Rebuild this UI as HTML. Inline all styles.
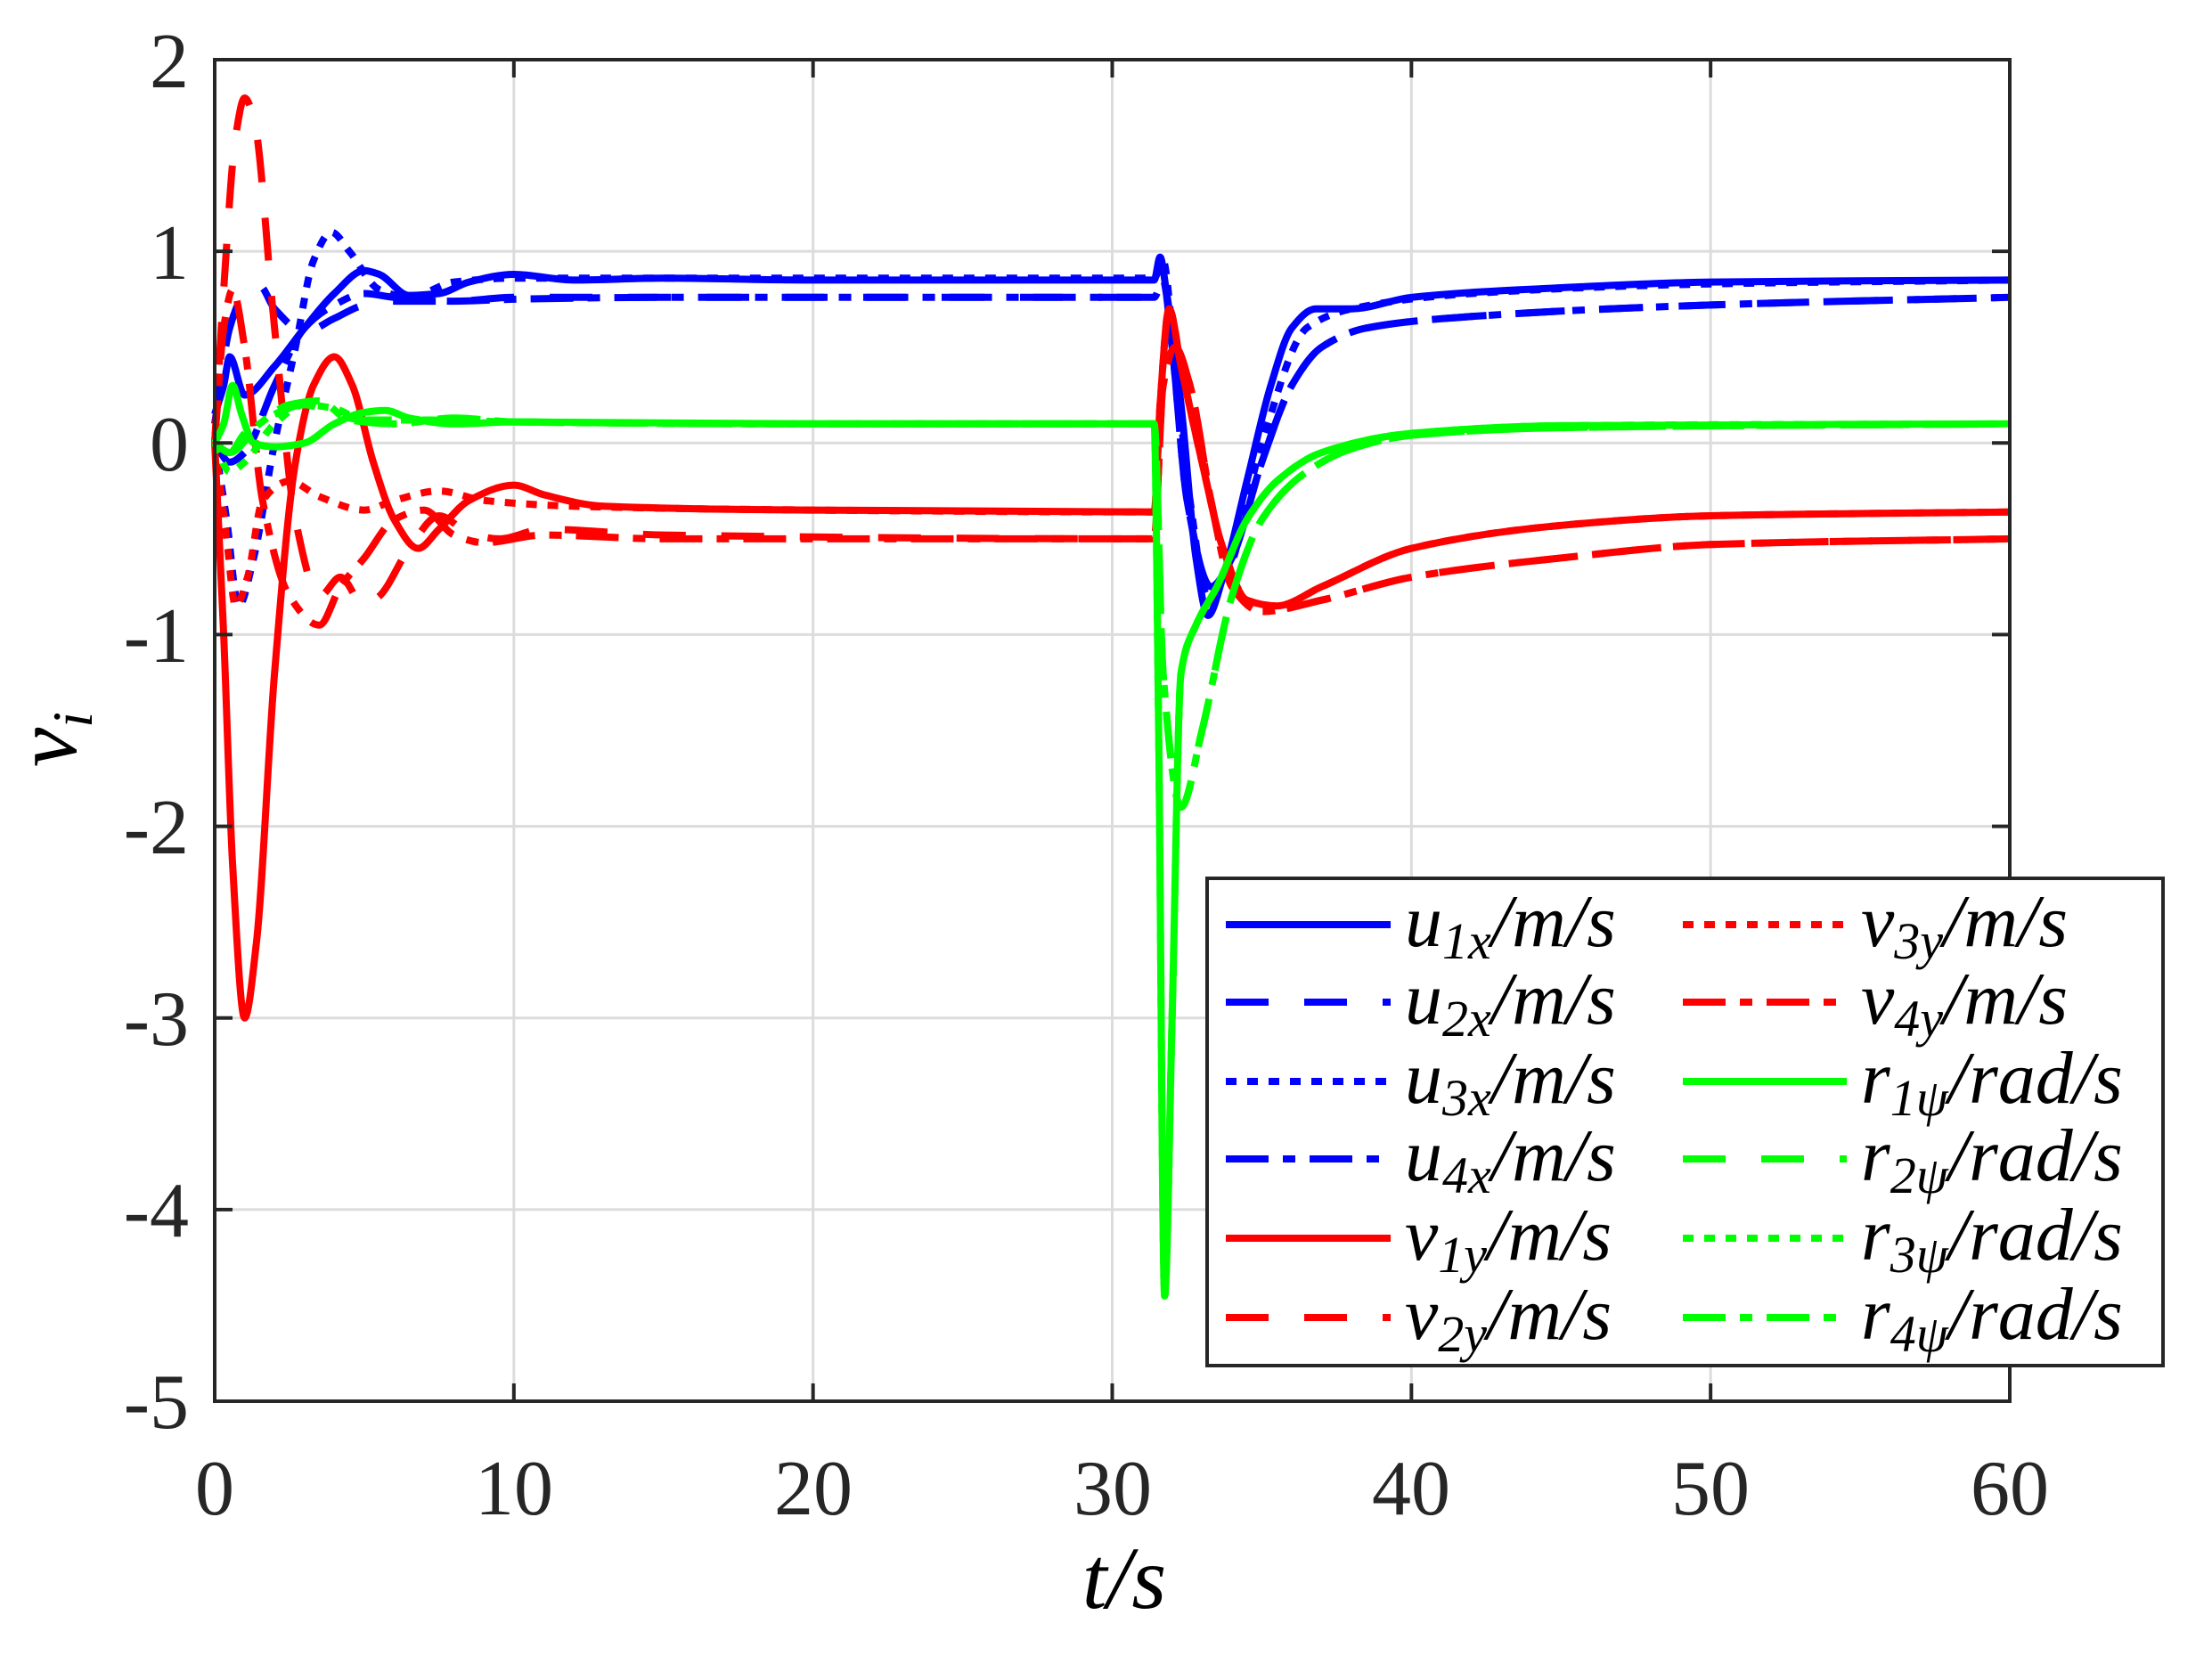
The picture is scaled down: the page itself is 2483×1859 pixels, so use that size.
<!DOCTYPE html>
<html><head><meta charset="utf-8"><style>
html,body{margin:0;padding:0;background:#fff;}
svg{display:block;}
.tk{font-family:"Liberation Serif",serif;font-size:88px;fill:#262626;}
.lg{font-family:"Liberation Serif",serif;font-style:italic;font-size:84px;fill:#000;}
</style></head><body>
<svg id="s" width="2483" height="1859" viewBox="0 0 2483 1859" xmlns="http://www.w3.org/2000/svg">
<rect width="2483" height="1859" fill="#fff"/>
<g id="grid" stroke="#dcdcdc" stroke-width="3"></g>
<g id="curves" fill="none" stroke-width="8" stroke-linejoin="round"></g>
<g id="axes"></g>
<g class="tk" text-anchor="end">
<text x="212" y="98">2</text>
<text x="212" y="313">1</text>
<text x="212" y="528">0</text>
<text x="212" y="743">-1</text>
<text x="212" y="958">-2</text>
<text x="212" y="1173">-3</text>
<text x="212" y="1388">-4</text>
<text x="212" y="1603">-5</text>
</g>
<g class="tk" text-anchor="middle">
<text x="241" y="1700">0</text>
<text x="577" y="1700">10</text>
<text x="913" y="1700">20</text>
<text x="1249" y="1700">30</text>
<text x="1584" y="1700">40</text>
<text x="1920" y="1700">50</text>
<text x="2256" y="1700">60</text>
</g>
<text class="lg" x="1262" y="1805" text-anchor="middle" style="font-size:100px">t/s</text>
<text class="lg" transform="translate(85,830) rotate(-90)" text-anchor="middle" style="font-size:100px">ν<tspan font-size="64" dy="18">i</tspan></text>
<rect x="1355" y="986" width="1073" height="547" fill="#fff" stroke="#262626" stroke-width="4"/>
<g id="leg" stroke-width="8" fill="none"></g>
<g class="lg">
<text x="1577" y="1062">u<tspan font-size="58" dy="14">1x</tspan><tspan dy="-14">/m/s</tspan></text>
<text x="1577" y="1149">u<tspan font-size="58" dy="14">2x</tspan><tspan dy="-14">/m/s</tspan></text>
<text x="1577" y="1238">u<tspan font-size="58" dy="14">3x</tspan><tspan dy="-14">/m/s</tspan></text>
<text x="1577" y="1325">u<tspan font-size="58" dy="14">4x</tspan><tspan dy="-14">/m/s</tspan></text>
<text x="1577" y="1414">v<tspan font-size="58" dy="14">1y</tspan><tspan dy="-14">/m/s</tspan></text>
<text x="1577" y="1503">v<tspan font-size="58" dy="14">2y</tspan><tspan dy="-14">/m/s</tspan></text>
<text x="2089" y="1062">v<tspan font-size="58" dy="14">3y</tspan><tspan dy="-14">/m/s</tspan></text>
<text x="2089" y="1149">v<tspan font-size="58" dy="14">4y</tspan><tspan dy="-14">/m/s</tspan></text>
<text x="2089" y="1238">r<tspan font-size="58" dy="14">1ψ</tspan><tspan dy="-14">/rad/s</tspan></text>
<text x="2089" y="1325">r<tspan font-size="58" dy="14">2ψ</tspan><tspan dy="-14">/rad/s</tspan></text>
<text x="2089" y="1414">r<tspan font-size="58" dy="14">3ψ</tspan><tspan dy="-14">/rad/s</tspan></text>
<text x="2089" y="1503">r<tspan font-size="58" dy="14">4ψ</tspan><tspan dy="-14">/rad/s</tspan></text>
</g>
</svg>
<script>
var L=241,R=2256,T=67,B=1573;
function X(t){return L+(R-L)*t/60;}
function Y(v){return T+(B-T)*(2-v)/7;}
var NS="http://www.w3.org/2000/svg";
function el(p,n,a){var e=document.createElementNS(NS,n);for(var k in a)e.setAttribute(k,a[k]);p.appendChild(e);return e;}
var g=document.getElementById('grid');
for(var i=1;i<6;i++)el(g,'line',{x1:X(i*10),x2:X(i*10),y1:T,y2:B});
for(var v=-4;v<2;v++)el(g,'line',{x1:L,x2:R,y1:Y(v),y2:Y(v)});
var ax=document.getElementById('axes');
el(ax,'rect',{x:L,y:T,width:R-L,height:B-T,fill:'none',stroke:'#262626','stroke-width':4});
for(var i=1;i<6;i++){el(ax,'line',{x1:X(i*10),x2:X(i*10),y1:B,y2:B-20,stroke:'#262626','stroke-width':4});el(ax,'line',{x1:X(i*10),x2:X(i*10),y1:T,y2:T+20,stroke:'#262626','stroke-width':4});}
for(var v=-4;v<2;v++){el(ax,'line',{x1:L,x2:L+20,y1:Y(v),y2:Y(v),stroke:'#262626','stroke-width':4});el(ax,'line',{x1:R,x2:R-20,y1:Y(v),y2:Y(v),stroke:'#262626','stroke-width':4});}
function path(pts){
var n=pts.length,x=pts.map(function(q){return q[0];}),y=pts.map(function(q){return q[1];});
var d=[],m=[];
for(var i=0;i<n-1;i++)d.push((y[i+1]-y[i])/(x[i+1]-x[i]));
m[0]=d[0];m[n-1]=d[n-2];
for(var i=1;i<n-1;i++){if(d[i-1]*d[i]<=0)m[i]=0;else{var w1=2*(x[i+1]-x[i])+(x[i]-x[i-1]),w2=(x[i+1]-x[i])+2*(x[i]-x[i-1]);m[i]=(w1+w2)/(w1/d[i-1]+w2/d[i]);}}
var s='M'+X(x[0]).toFixed(1)+','+Y(y[0]).toFixed(1);
for(var i=0;i<n-1;i++){var h=x[i+1]-x[i];
s+='C'+X(x[i]+h/3).toFixed(1)+','+Y(y[i]+m[i]*h/3).toFixed(1)+' '+X(x[i+1]-h/3).toFixed(1)+','+Y(y[i+1]-m[i+1]*h/3).toFixed(1)+' '+X(x[i+1]).toFixed(1)+','+Y(y[i+1]).toFixed(1);}
return s;}
var DA={s:'',d:'48 40',o:'12 12',dd:'48 16 14 16'};
var BL='#0000ff',RD='#ff0000',GR='#00ff00';
var u1=[[0,0.15],[0.3,0.3],[0.5,0.45],[1,0.25],[2,0.4],[3,0.6],[4,0.78],[5,0.9],[5.5,0.88],[6.5,0.77],[7.5,0.78],[8.5,0.84],[10,0.88],[12,0.85],[15,0.86],[20,0.85],[31.4,0.85],[31.6,0.97],[31.8,0.8],[32.3,0.2],[32.8,-0.6],[33.2,-0.9],[33.7,-0.7],[34.5,-0.2],[35.3,0.3],[36,0.6],[36.8,0.7],[38,0.7],[40,0.76],[45,0.81],[50,0.84],[60,0.85]];
var u2=[[0,0.1],[0.5,0.6],[1,0.78],[1.5,0.82],[2,0.7],[3,0.58],[4,0.65],[5,0.72],[6,0.74],[8,0.74],[10,0.76],[15,0.76],[31.4,0.76],[31.7,0.85],[32,0.5],[32.5,-0.3],[33.3,-0.75],[34,-0.6],[35,-0.1],[36,0.3],[37,0.5],[38.5,0.6],[42,0.66],[50,0.72],[60,0.76]];
var u3=[[0,0],[0.4,-0.4],[0.8,-0.85],[1.3,-0.6],[2,0.0],[2.7,0.5],[3.3,0.95],[3.9,1.1],[4.5,1.0],[5.5,0.8],[6.5,0.76],[8,0.84],[10,0.86],[15,0.86],[31.4,0.86],[31.7,0.95],[32,0.6],[32.6,-0.3],[33.2,-0.8],[33.8,-0.7],[35,0.0],[36.5,0.6],[38,0.7],[42,0.78],[50,0.83],[60,0.85]];
var u4=[[0,0],[0.5,-0.1],[1,-0.05],[2,0.3],[3,0.6],[4,0.72],[5,0.78],[6,0.76],[8,0.74],[10,0.75],[15,0.76],[31.4,0.76],[31.7,0.85],[32,0.5],[32.5,-0.3],[33.3,-0.75],[34,-0.6],[35,-0.1],[36,0.3],[37,0.5],[38.5,0.6],[42,0.66],[50,0.72],[60,0.76]];
var v1a=[[31.4,-0.36],[31.6,0.2],[31.9,0.7],[32.3,0.4],[33,-0.1],[33.7,-0.55],[34.5,-0.82],[35.5,-0.85],[37,-0.75],[40,-0.55],[45,-0.43],[50,-0.38],[60,-0.36]];
var v2a=[[31.4,-0.5],[31.7,0.3],[32.1,0.5],[32.6,0.3],[33.3,-0.3],[34,-0.75],[35,-0.88],[37,-0.82],[40,-0.7],[45,-0.6],[50,-0.53],[60,-0.5]];
var v1=[[0,0],[0.3,-1],[0.6,-2.2],[1,-3],[1.4,-2.6],[2,-1.2],[2.7,-0.1],[3.3,0.3],[4,0.45],[4.6,0.3],[5.3,-0.1],[6,-0.4],[6.8,-0.55],[7.5,-0.45],[8.5,-0.3],[10,-0.22],[11,-0.27],[13,-0.33],[20,-0.35]].concat(v1a);
var v2=[[0,0],[0.3,0.8],[0.7,1.6],[1,1.8],[1.3,1.7],[2,0.6],[2.7,-0.4],[3.5,-0.8],[4.2,-0.7],[5,-0.85],[5.5,-0.8],[6.5,-0.55],[7.5,-0.38],[8.5,-0.47],[9.5,-0.5],[11,-0.45],[15,-0.48]].concat(v2a);
var v3=[[0,0],[0.4,-0.5],[0.7,-0.85],[1.1,-0.7],[1.6,-0.3],[2.5,-0.2],[3.5,-0.28],[5,-0.35],[6,-0.3],[7.5,-0.25],[9,-0.3],[12,-0.33],[20,-0.35]].concat(v1a);
var v4=[[0,0],[0.3,0.6],[0.6,0.8],[1,0.5],[1.6,-0.3],[2.5,-0.8],[3.5,-0.95],[4.2,-0.75],[5,-0.6],[6,-0.4],[7,-0.35],[8,-0.48],[9,-0.52],[11,-0.48],[15,-0.5]].concat(v2a);
var r1a=[[31.4,0.1],[31.55,-1.5],[31.75,-4.45],[32,-3],[32.3,-1.2],[32.8,-0.95],[33.5,-0.75],[34.5,-0.4],[35.5,-0.2],[37,-0.05],[40,0.05],[45,0.09],[60,0.1]];
var r2a=[[31.4,0.1],[31.7,-1.2],[32.3,-1.9],[33,-1.5],[34,-0.8],[35,-0.4],[36.5,-0.15],[38,-0.03],[40,0.04],[45,0.08],[60,0.1]];
var r1=[[0,0],[0.3,0.1],[0.6,0.3],[0.9,0.15],[1.3,0.0],[2,-0.02],[3,0.0],[4,0.1],[5,0.16],[5.7,0.17],[6.5,0.13],[8,0.1],[10,0.11],[20,0.1]].concat(r1a);
var r2=[[0,0],[0.5,-0.05],[1,0.05],[2,0.15],[3,0.2],[4,0.15],[5,0.12],[7,0.12],[10,0.11],[20,0.1]].concat(r2a);
var r3=[[0,0],[0.5,-0.15],[1,-0.1],[2,0.1],[3,0.2],[4,0.18],[5,0.12],[7,0.12],[10,0.11],[20,0.1]].concat(r1a);
var r4=[[0,0],[0.5,-0.05],[1.5,0.1],[2.5,0.2],[3.5,0.22],[4.5,0.12],[6,0.1],[8,0.13],[10,0.11],[20,0.1]].concat(r2a);
var S=[[u1,BL,'s'],[u2,BL,'d'],[u3,BL,'o'],[u4,BL,'dd'],[v1,RD,'s'],[v2,RD,'d'],[v3,RD,'o'],[v4,RD,'dd'],[r1,GR,'s'],[r2,GR,'d'],[r3,GR,'o'],[r4,GR,'dd']];
var cg=document.getElementById('curves');
S.forEach(function(s){var a={d:path(s[0]),stroke:s[1]};if(DA[s[2]])a['stroke-dasharray']=DA[s[2]];el(cg,'path',a);});
var lg=document.getElementById('leg');
var ry=[1038,1125,1214,1301,1390,1479];
S.forEach(function(s,i){var c=i<6?0:1,r=i%6;var x1=c?1889:1376,x2=c?2073:1561;var a={x1:x1,x2:x2,y1:ry[r],y2:ry[r],stroke:s[1]};if(DA[s[2]])a['stroke-dasharray']=DA[s[2]];el(lg,'line',a);});
</script>
</body></html>
